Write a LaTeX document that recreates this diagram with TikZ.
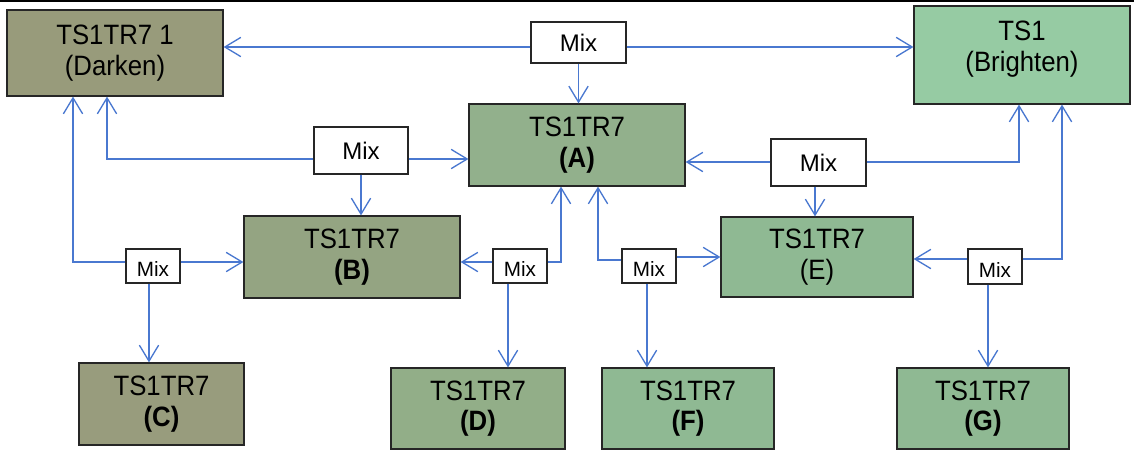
\documentclass[tikz,border=0pt]{standalone}
\usepackage{fontspec}
\setmainfont{Liberation Sans}
\newfontfamily\boxfnt{Liberation Sans}[FakeStretch=0.92]
\usetikzlibrary{arrows.meta}
\definecolor{lc}{HTML}{4A78D0}
\definecolor{cdark}{HTML}{989B7B}
\definecolor{cc}{HTML}{989C7D}
\definecolor{cb}{HTML}{94A482}
\definecolor{ca}{HTML}{92B08C}
\definecolor{cd}{HTML}{92AE88}
\definecolor{ce}{HTML}{8FB993}
\definecolor{cts}{HTML}{96CBA3}
\begin{document}
\begin{tikzpicture}[x=0.75pt,y=-0.75pt,
  boxtext/.style={font=\boxfnt\fontsize{21}{23}\selectfont, align=center, inner sep=0pt, text=black},
  box/.style={boxtext, draw=black!85, line width=0.9pt},
  mix/.style={draw=black!85, fill=white, line width=0.9pt, inner sep=0pt, text=black},
  mixbig/.style={mix, font=\fontsize{18}{20}\selectfont},
  mixsmall/.style={mix, font=\fontsize{15.5}{17}\selectfont, text height=15.8pt, text depth=0pt},
  arr/.style={draw=lc, line width=1pt, -{Straight Barb[length=12pt,width=14.5pt]}}]
\useasboundingbox (0,0) rectangle (1134,450);
\draw[line width=1.5pt] (0,1) -- (1134,1);

% main boxes
\node[box, fill=cdark, minimum width=162pt, minimum height=64.5pt] (dark) at (115,53) {TS1TR7 1\\(Darken)};
\node[draw=black!85, line width=0.9pt, fill=cts, minimum width=162pt, minimum height=73.5pt, inner sep=0pt,
      label={[boxtext,yshift=4.5pt]center:{TS1\\(Brighten)}}] (ts1) at (1022,55) {};
\node[box, fill=ca, minimum width=162pt, minimum height=61.5pt] (A) at (577,145) {TS1TR7\\\textbf{(A)}};
\node[box, fill=cb, minimum width=162pt, minimum height=61.5pt] (B) at (352,257) {TS1TR7\\\textbf{(B)}};
\node[box, fill=cc, minimum width=123.75pt, minimum height=61.5pt] (C) at (161.5,404) {TS1TR7\\\textbf{(C)}};
\node[box, fill=cd, minimum width=130.5pt, minimum height=60.75pt] (D) at (478,408.5) {TS1TR7\\\textbf{(D)}};
\node[box, fill=ce, minimum width=144pt, minimum height=60pt] (E) at (817,257) {TS1TR7\\(E)};
\node[box, fill=ce, minimum width=129pt, minimum height=60.75pt] (F) at (688,408.5) {TS1TR7\\\textbf{(F)}};
\node[box, fill=ce, minimum width=129pt, minimum height=60.75pt] (G) at (983,408.5) {TS1TR7\\\textbf{(G)}};

% mix boxes
\node[mixbig, minimum width=71.25pt, minimum height=30.75pt] (m1) at (578.5,42.5) {Mix};
\node[mixbig, minimum width=70.5pt, minimum height=35.25pt] (m2) at (361,150.5) {Mix};
\node[mixbig, minimum width=71.25pt, minimum height=35.25pt] (m6) at (818.5,162.5) {Mix};
\node[mixsmall, minimum width=40.5pt, minimum height=25.5pt] (m3) at (153,266) {Mix};
\node[mixsmall, minimum width=40.5pt, minimum height=25.5pt] (m4) at (520,266) {Mix};
\node[mixsmall, minimum width=40.5pt, minimum height=25.5pt] (m5) at (649,266) {Mix};
\node[mixsmall, minimum width=40.5pt, minimum height=26.25pt] (m7) at (995,266.5) {Mix};

% helper coordinates
\coordinate (r47) at (0,47);
\coordinate (r159) at (0,159);
\coordinate (k1) at (107,159);
\coordinate (k2) at (73,262);
\coordinate (k3) at (561,262);
\coordinate (k4) at (598,260);
\coordinate (r257) at (0,257);
\coordinate (r162) at (0,162);
\coordinate (k5) at (1019,162);
\coordinate (r259) at (0,259);
\coordinate (k6) at (1062,259);
\coordinate (v149) at (149,0);
\coordinate (v508) at (508,0);
\coordinate (v647) at (647,0);
\coordinate (v815) at (815,0);
\coordinate (v988) at (988,0);

% connectors
\draw[arr] (m1.west|-r47) -- (dark.east|-r47);
\draw[arr] (m1.east|-r47) -- (ts1.west|-r47);
\draw[arr] (m1.south) -- (m1.south|-A.north);

\draw[arr] (m2.east|-r159) -- (A.west|-r159);
\draw[arr] (m2.west|-k1) -- (k1) -- (k1|-dark.south);
\draw[arr] (m2.south) -- (m2.south|-B.north);

\draw[arr] (m3.west|-k2) -- (k2) -- (k2|-dark.south);
\draw[arr] (m3.east|-k2) -- (B.west|-k2);
\draw[arr] (v149|-m3.south) -- (v149|-C.north);

\draw[arr] (m4.west|-k3) -- (B.east|-k3);
\draw[arr] (m4.east|-k3) -- (k3) -- (k3|-A.south);
\draw[arr] (v508|-m4.south) -- (v508|-D.north);

\draw[arr] (m5.west|-k4) -- (k4) -- (k4|-A.south);
\draw[arr] (m5.east|-r257) -- (E.west|-r257);
\draw[arr] (v647|-m5.south) -- (v647|-F.north);

\draw[arr] (m6.west|-r162) -- (A.east|-r162);
\draw[arr] (m6.east|-k5) -- (k5) -- (k5|-ts1.south);
\draw[arr] (v815|-m6.south) -- (v815|-E.north);

\draw[arr] (m7.west|-r259) -- (E.east|-r259);
\draw[arr] (m7.east|-k6) -- (k6) -- (k6|-ts1.south);
\draw[arr] (v988|-m7.south) -- (v988|-G.north);
\end{tikzpicture}
\end{document}
